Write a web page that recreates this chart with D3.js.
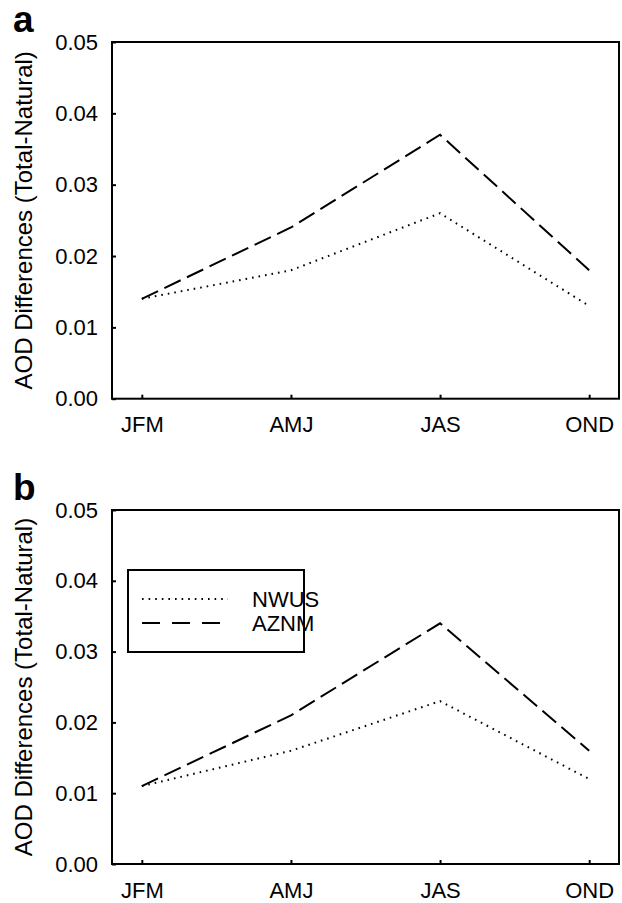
<!DOCTYPE html>
<html>
<head>
<meta charset="utf-8">
<script src="https://cdn.jsdelivr.net/npm/d3@7"></script>
<style>
  body { margin: 0; background: #fff; }
  text { font-family: "Liberation Sans", Arial, sans-serif; fill: #000; }
</style>
</head>
<body>
<div id="chart"></div>
<script>
// seasons on the x axis
const seasons = ['JFM', 'AMJ', 'JAS', 'OND'];
const yTicks = [0, 0.01, 0.02, 0.03, 0.04, 0.05];

// panel a
const nwusA = [0.014, 0.018, 0.026, 0.013];
const aznmA = [0.014, 0.024, 0.037, 0.018];
// panel b
const nwusB = [0.011, 0.016, 0.023, 0.012];
const aznmB = [0.011, 0.021, 0.034, 0.016];

const seriesNames = ['NWUS', 'AZNM'];
const dashes = { NWUS: '1.6,5', AZNM: '18,7' };

const W = 622, H = 903;
const left = 112, right = 619;

const svg = d3.select('#chart').append('svg')
    .attr('width', W)
    .attr('height', H);

const x = d3.scalePoint()
    .domain(seasons)
    .range([left, right])
    .padding(0.2);

function drawPanel(letter, top, bottom, nwus, aznm, showLegend) {
    const y = d3.scaleLinear().domain([0, 0.05]).range([bottom, top]);
    const g = svg.append('g');

    // frame
    g.append('rect')
        .attr('x', left).attr('y', top)
        .attr('width', right - left).attr('height', bottom - top)
        .attr('fill', 'none').attr('stroke', '#000').attr('stroke-width', 2);

    // y axis, ticks point inward
    const yAxis = g.append('g')
        .attr('transform', `translate(${left},0)`)
        .call(d3.axisLeft(y).tickValues(yTicks).tickFormat(d3.format('.2f')).tickSize(-4).tickPadding(14));
    yAxis.select('.domain').remove();
    yAxis.selectAll('line').attr('stroke-width', 2);
    yAxis.selectAll('text').attr('font-size', 22).attr('font-family', null);

    // x axis
    const xAxis = g.append('g')
        .attr('transform', `translate(0,${bottom})`)
        .call(d3.axisBottom(x).tickSize(-4).tickPadding(18));
    xAxis.select('.domain').remove();
    xAxis.selectAll('line').attr('stroke-width', 2);
    xAxis.selectAll('text').attr('font-size', 22).attr('font-family', null);

    // axis title
    g.append('text')
        .attr('transform', `translate(32,${(top + bottom) / 2}) rotate(-90)`)
        .attr('text-anchor', 'middle')
        .attr('font-size', 24)
        .text('AOD Differences (Total-Natural)');

    // panel letter
    g.append('text')
        .attr('x', 13).attr('y', top - 10)
        .attr('font-size', 37).attr('font-weight', 'bold')
        .text(letter);

    const line = d3.line()
        .x((d, i) => x(seasons[i]))
        .y(d => y(d));

    [nwus, aznm].forEach((vals, k) => {
        g.append('path')
            .datum(vals)
            .attr('d', line)
            .attr('fill', 'none')
            .attr('stroke', '#000')
            .attr('stroke-width', 2)
            .attr('stroke-dasharray', dashes[seriesNames[k]]);
    });

    if (showLegend) {
        const lg = g.append('g');
        lg.append('rect')
            .attr('x', 128).attr('y', 570)
            .attr('width', 176).attr('height', 82)
            .attr('fill', '#fff').attr('stroke', '#000').attr('stroke-width', 2);
        seriesNames.forEach((name, i) => {
            const ly = 599 + i * 24;
            lg.append('line')
                .attr('x1', 142).attr('x2', 228)
                .attr('y1', ly).attr('y2', ly)
                .attr('stroke', '#000').attr('stroke-width', 2)
                .attr('stroke-dasharray', name === 'NWUS' ? '1.6,5' : '18,12');
            lg.append('text')
                .attr('x', 252).attr('y', ly + 8)
                .attr('font-size', 22)
                .text(name);
        });
    }
}

drawPanel('a', 42, 398.7, nwusA, aznmA, false);
drawPanel('b', 510, 864, nwusB, aznmB, true);
</script>
</body>
</html>
